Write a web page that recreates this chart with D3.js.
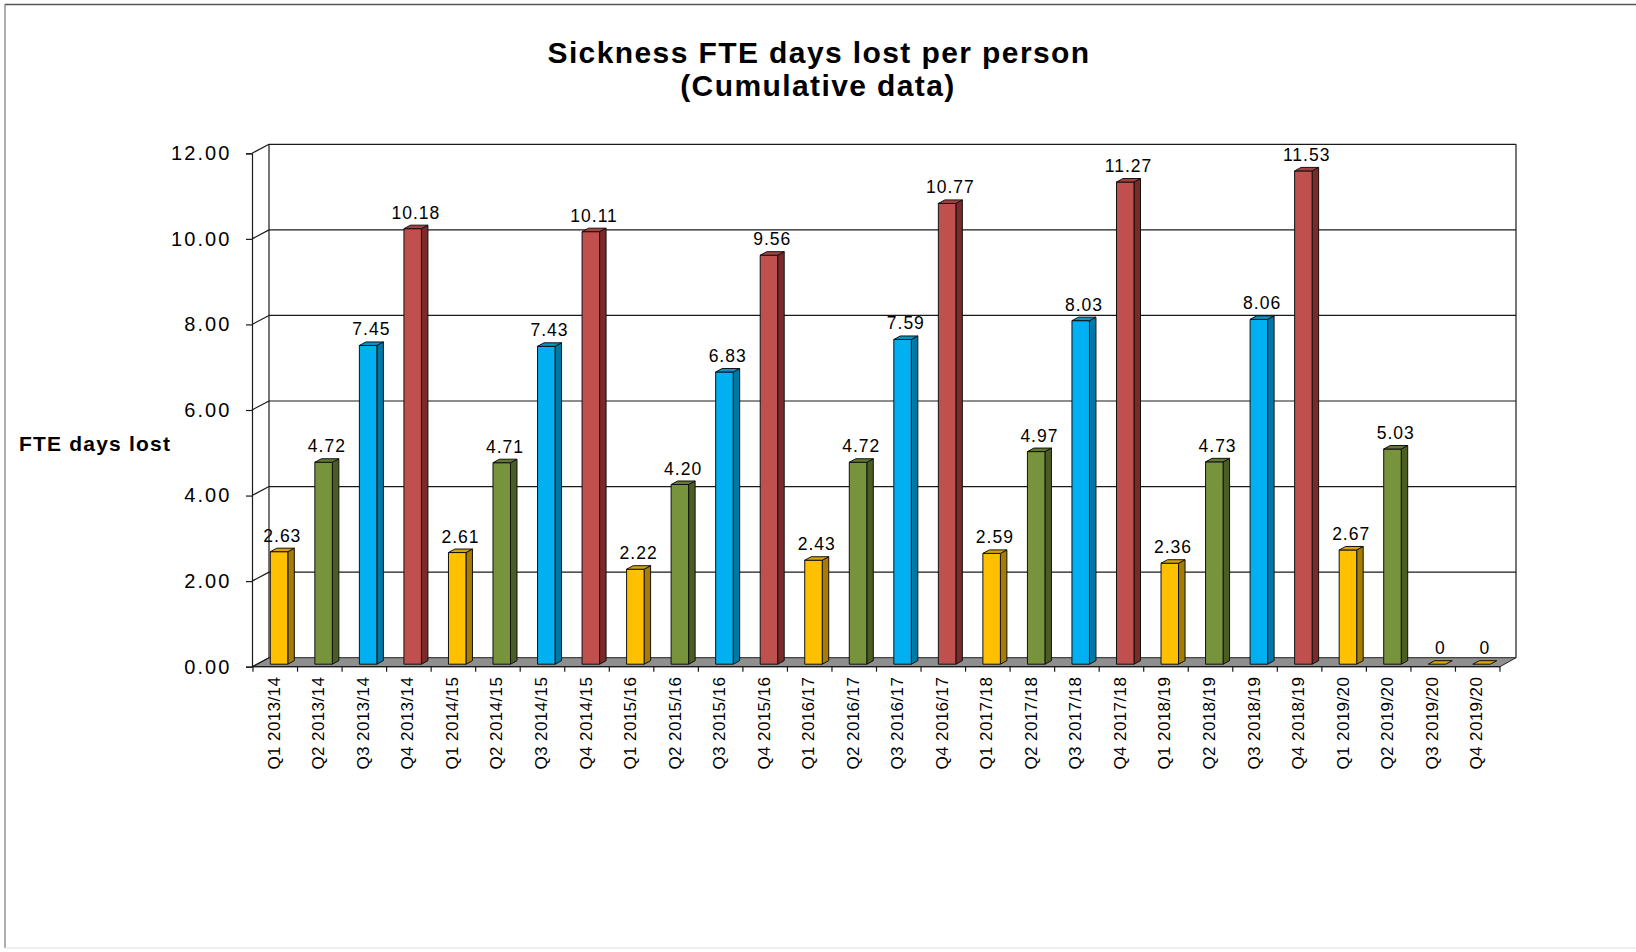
<!DOCTYPE html>
<html>
<head>
<meta charset="utf-8">
<script src="https://cdn.jsdelivr.net/npm/d3@7"></script>
<style>
  html, body { margin: 0; padding: 0; background: #fff; }
  svg { display: block; font-family: "Liberation Sans", Arial, sans-serif; }
</style>
</head>
<body>
<svg id="chart" width="1636" height="952"></svg>
<script>
// Quarter / financial year categories
const quarters = ["Q1", "Q2", "Q3", "Q4"];
const years = ["2013/14", "2014/15", "2015/16", "2016/17", "2017/18", "2018/19", "2019/20"];
const categories = years.flatMap(yr => quarters.map(q => q + " " + yr));

// Cumulative sickness FTE days lost per person, one value per quarter
const daysLost = [
  2.63, 4.72, 7.45, 10.18,
  2.61, 4.71, 7.43, 10.11,
  2.22, 4.20, 6.83, 9.56,
  2.43, 4.72, 7.59, 10.77,
  2.59, 4.97, 8.03, 11.27,
  2.36, 4.73, 8.06, 11.53,
  2.67, 5.03, 0, 0
];

const yTicks = [0, 2, 4, 6, 8, 10, 12];

// Face colours per quarter: front, side, top
const quarterColours = {
  Q1: { front: "#FFC000", side: "#A67D00", top: "#D9A400" },
  Q2: { front: "#77933C", side: "#4A5E24", top: "#627A30" },
  Q3: { front: "#00B0F0", side: "#0078A6", top: "#0096CC" },
  Q4: { front: "#C0504D", side: "#7A2B29", top: "#A34340" }
};
// Quarters not yet reported are drawn as flat placeholder slabs
const placeholderColour = { front: "#E6A800", side: "#A67D00", top: "#E0A300" };

const svg = d3.select("#chart");

// Plot geometry (front plane) and 3-D depth offsets
const plotLeft = 253, plotRight = 1500, plotTop = 153.3, plotBottom = 666.7;
const depthX = 16, depthY = -9;          // back wall offset
const barShiftX = 3.8, barShiftY = -2.5; // bar sits slightly behind the front plane
const barW = 17.5, sideX = 6.5, sideY = -3.5;

const x = d3.scaleBand().domain(categories).range([plotLeft, plotRight]).paddingInner(0).paddingOuter(0);
const y = d3.scaleLinear().domain([0, 12]).range([plotBottom, plotTop]);

// Outer frame
svg.append("line").attr("x1", 5).attr("x2", 1636).attr("y1", 4.5).attr("y2", 4.5)
  .attr("stroke", "#555").attr("stroke-width", 1.5);
svg.append("line").attr("x1", 5).attr("x2", 5).attr("y1", 4).attr("y2", 948)
  .attr("stroke", "#777").attr("stroke-width", 1.2);
svg.append("line").attr("x1", 5).attr("x2", 1636).attr("y1", 948).attr("y2", 948)
  .attr("stroke", "#ddd").attr("stroke-width", 1);

// Title
const title = svg.append("text").attr("text-anchor", "middle")
  .attr("font-weight", "bold").attr("font-size", 30).attr("letter-spacing", 1.4).attr("fill", "#000");
title.append("tspan").attr("x", 819).attr("y", 62.5).text("Sickness FTE days lost per person");
title.append("tspan").attr("x", 818).attr("y", 96).text("(Cumulative data)");

// Y axis title
svg.append("text").attr("x", 19).attr("y", 450.5)
  .attr("font-weight", "bold").attr("font-size", 21).attr("letter-spacing", 1.2)
  .text("FTE days lost");

// Floor
const floorPts = [[plotLeft, plotBottom], [plotRight, plotBottom],
  [plotRight + depthX, plotBottom + depthY], [plotLeft + depthX, plotBottom + depthY]];
svg.append("path").attr("d", "M" + floorPts.join("L") + "Z")
  .attr("fill", "#8F8F8F").attr("stroke", "#222").attr("stroke-width", 1);

// Back wall gridlines and side-wall diagonals
const grid = svg.append("g").attr("stroke", "#1a1a1a").attr("stroke-width", 1.2).attr("fill", "none");
yTicks.forEach(t => {
  const yy = y(t);
  if (t > 0) {
    grid.append("line").attr("x1", plotLeft + depthX).attr("x2", plotRight + depthX)
      .attr("y1", yy + depthY).attr("y2", yy + depthY);
  }
  grid.append("line").attr("x1", plotLeft - 1).attr("x2", plotLeft + depthX)
    .attr("y1", yy).attr("y2", yy + depthY);
});
grid.append("line").attr("x1", plotLeft + depthX).attr("x2", plotLeft + depthX)
  .attr("y1", y(12) + depthY).attr("y2", y(0) + depthY);
grid.append("line").attr("x1", plotRight + depthX).attr("x2", plotRight + depthX)
  .attr("y1", y(12) + depthY).attr("y2", y(0) + depthY);

// Y axis with value ticks
const yAxis = d3.axisLeft(y).tickValues(yTicks).tickFormat(d3.format(".2f"))
  .tickSize(6).tickPadding(14.5);
const yG = svg.append("g").attr("transform", `translate(${plotLeft - 1},0)`).call(yAxis);
yG.select(".domain").attr("stroke", "#1a1a1a").attr("stroke-width", 1.2);
yG.selectAll(".tick line").attr("stroke", "#1a1a1a").attr("stroke-width", 1.2);
yG.selectAll(".tick text").attr("font-size", 20).attr("letter-spacing", 2.1)
  .attr("fill", "#000").attr("font-family", "Liberation Sans, Arial, sans-serif");

// X axis: base line, boundary ticks and rotated category labels
const xG = svg.append("g");
xG.append("line").attr("x1", plotLeft).attr("x2", plotRight).attr("y1", plotBottom).attr("y2", plotBottom)
  .attr("stroke", "#1a1a1a").attr("stroke-width", 1.2);
const boundaries = categories.map(c => x(c)).concat([x(categories[categories.length - 1]) + x.bandwidth()]);
xG.selectAll("line.tick").data(boundaries).join("line").attr("class", "tick")
  .attr("x1", d => d).attr("x2", d => d).attr("y1", plotBottom).attr("y2", plotBottom + 5)
  .attr("stroke", "#1a1a1a").attr("stroke-width", 1.2);
xG.selectAll("text").data(categories).join("text")
  .attr("transform", d => `translate(${x(d) + x.bandwidth() / 2 + 4.5},${plotBottom + 10}) rotate(-90)`)
  .attr("text-anchor", "end").attr("font-size", 17).attr("letter-spacing", 0.4)
  .text(d => d);

// 3-D bars
const bars = svg.append("g");
categories.forEach((c, i) => {
  const v = daysLost[i];
  const q = c.split(" ")[0];
  const col = v > 0 ? quarterColours[q] : placeholderColour;
  const x0 = x(c) + x.bandwidth() / 2 - barW / 2 + barShiftX;
  const x1 = x0 + barW;
  const yb = y(0) + barShiftY;
  const yt = y(v) + barShiftY;
  const g = bars.append("g").attr("stroke", "#111").attr("stroke-width", 1).attr("stroke-linejoin", "round");
  if (v > 0) {
    g.append("path").attr("fill", col.side)
      .attr("d", `M${x1},${yb}L${x1 + sideX},${yb + sideY}L${x1 + sideX},${yt + sideY}L${x1},${yt}Z`);
    g.append("path").attr("fill", col.front)
      .attr("d", `M${x0},${yb}L${x1},${yb}L${x1},${yt}L${x0},${yt}Z`);
  }
  g.append("path").attr("fill", col.top)
    .attr("d", `M${x0},${yt}L${x1},${yt}L${x1 + sideX},${yt + sideY}L${x0 + sideX},${yt + sideY}Z`);
});

// Value labels
svg.append("g").selectAll("text").data(categories).join("text")
  .attr("x", c => x(c) + x.bandwidth() / 2 + barShiftX + sideX / 2)
  .attr("y", (c, i) => y(daysLost[i]) + barShiftY - 10)
  .attr("text-anchor", "middle").attr("font-size", 17.5).attr("letter-spacing", 1)
  .attr("fill", "#000")
  .text((c, i) => daysLost[i] === 0 ? "0" : daysLost[i].toFixed(2));
</script>
</body>
</html>
